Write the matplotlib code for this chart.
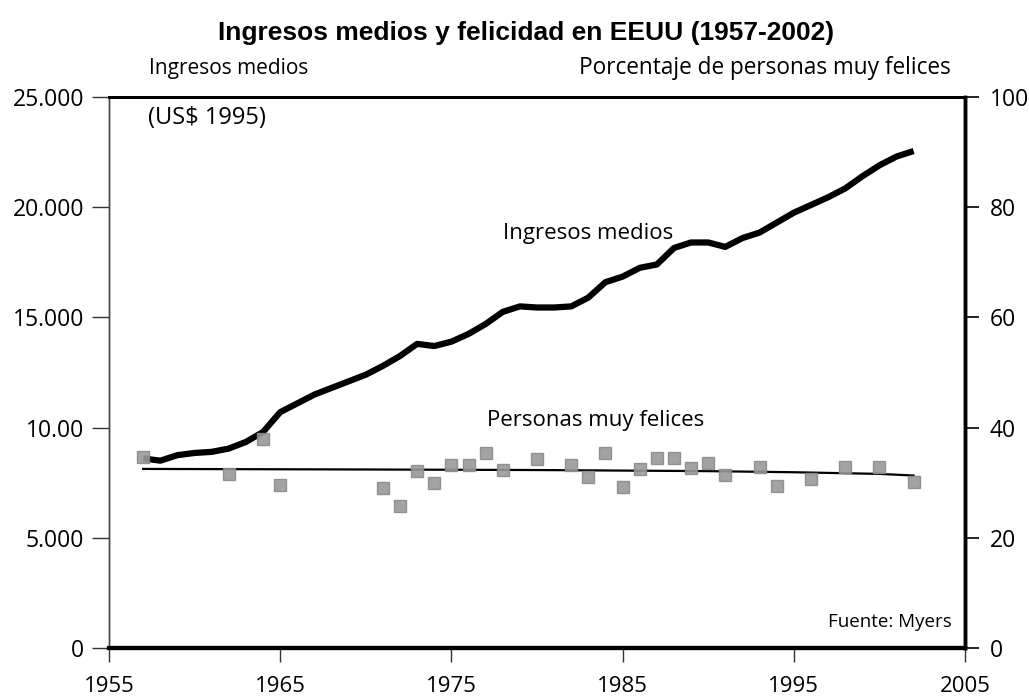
import matplotlib
matplotlib.use("Agg")
import matplotlib.pyplot as plt

# ---- data ----
income_years = list(range(1957, 2003))
income = [8.6, 8.5, 8.75, 8.85, 8.9, 9.05, 9.35, 9.8, 10.7, 11.1,
          11.5, 11.8, 12.1, 12.4, 12.8, 13.25, 13.8, 13.7, 13.9, 14.25,
          14.7, 15.25, 15.5, 15.45, 15.45, 15.5, 15.9, 16.6, 16.85, 17.25,
          17.4, 18.15, 18.4, 18.4, 18.2, 18.6, 18.85, 19.3, 19.75, 20.1,
          20.45, 20.85, 21.4, 21.9, 22.3, 22.55]  # thousands US$ 1995

happy_years = [1957, 1962, 1964, 1965, 1971, 1972, 1973, 1974, 1975, 1976,
               1977, 1978, 1980, 1982, 1983, 1984, 1985, 1986, 1987, 1988,
               1989, 1990, 1991, 1993, 1994, 1996, 1998, 2000, 2002]
happy = [34.6, 31.6, 37.9, 29.6, 29.0, 25.8, 32.2, 30.0, 33.2, 33.2,
         35.4, 32.3, 34.3, 33.2, 31.1, 35.4, 29.3, 32.4, 34.5, 34.5,
         32.6, 33.6, 31.4, 32.8, 29.4, 30.7, 32.8, 32.8, 30.2]

trend_years = [1957, 1970, 1980, 1990, 1995, 2000, 2002]
trend = [32.5, 32.4, 32.3, 32.1, 31.9, 31.6, 31.3]

x_ticks = [1955, 1965, 1975, 1985, 1995, 2005]
left_ticks = [0, 5000, 10000, 15000, 20000, 25000]
left_labels = ["0", "5.000", "10.00", "15.000", "20.000", "25.000"]
right_ticks = [0, 20, 40, 60, 80, 100]

title = "Ingresos medios y felicidad en EEUU (1957-2002)"

FONT = ["Open Sans", "DejaVu Sans"]
plt.rcParams["font.family"] = FONT

fig = plt.figure(figsize=(10.29, 6.97), dpi=100)
ax = fig.add_axes([0.1059, 0.0703, 0.8319, 0.7905])
ax2 = ax.twinx()

ax.plot(income_years, [v * 1000 for v in income], color="black", lw=4.5,
        solid_capstyle="butt", zorder=3)
ax2.plot(trend_years, trend, color="black", lw=1.6, zorder=2)
ax2.plot(happy_years, happy, linestyle="none", marker="s", ms=9,
         mfc="#999999", mec="#8a8a8a", alpha=0.9, zorder=3)

ax.set_xlim(1955, 2005)
ax.set_ylim(0, 25000)
ax2.set_ylim(0, 100)

ax.set_xticks(x_ticks)
ax.set_xticklabels([str(t) for t in x_ticks], fontsize=16)
ax.set_yticks(left_ticks)
ax.set_yticklabels(left_labels, fontsize=16.5)
ax2.set_yticks(right_ticks)
ax2.set_yticklabels([str(t) for t in right_ticks], fontsize=16.5)

ax.tick_params(axis="x", direction="out", length=10, width=1.0, color="#333333", pad=10)
ax.tick_params(axis="y", direction="out", length=12, width=1.0, color="#333333", pad=6)
ax2.tick_params(axis="y", direction="out", length=10, width=1.2, pad=8)

for a in (ax, ax2):
    a.spines["left"].set_linewidth(1.0)
    a.spines["left"].set_color("#444444")
    a.spines["bottom"].set_linewidth(3.0)
    a.spines["right"].set_linewidth(2.5)
    a.spines["top"].set_linewidth(2.0)

fig.text(0.511, 0.953, title, ha="center", va="center", fontsize=19,
         fontweight="bold", family=["Liberation Sans", "DejaVu Sans"])
fig.text(0.1448, 0.902, "Ingresos medios", ha="left", va="center", fontsize=15)
fig.text(0.924, 0.902, "Porcentaje de personas muy felices", ha="right", va="center", fontsize=16.3)

ax.text(1957.3, 24050, "(US$ 1995)", ha="left", va="center", fontsize=17)
ax.text(1978.0, 18800, "Ingresos medios", ha="left", va="center", fontsize=16)
ax2.text(1977.1, 41.3, "Personas muy felices", ha="left", va="center", fontsize=16)
ax.text(2004.2, 1200, "Fuente: Myers", ha="right", va="center", fontsize=13.5)

fig.savefig("out.png", dpi=100)
